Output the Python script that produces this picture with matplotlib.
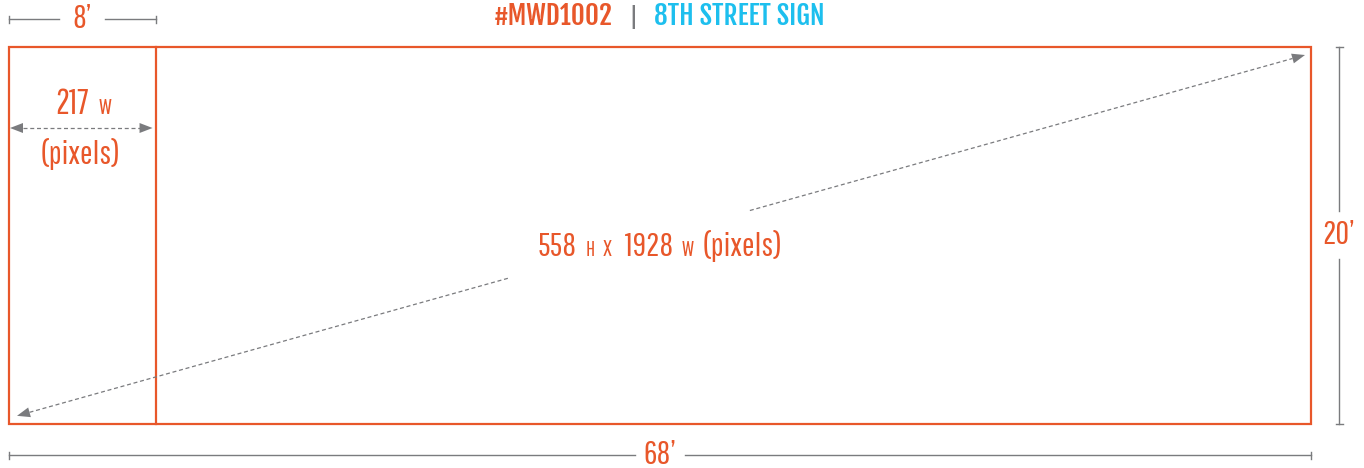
import numpy as np
import matplotlib
matplotlib.use("Agg")
import matplotlib.pyplot as plt
from matplotlib.patches import Rectangle, Polygon
from matplotlib.offsetbox import TextArea, HPacker, AnnotationBbox

# ---- data ----
sign_id = "#MWD1002"
sign_name = "8TH STREET SIGN"
panel_feet = [8, 68]          # small panel width, total width (feet)
height_feet = 20
small_panel_px = 217          # width in pixels of small panel
sign_px = [558, 1928]         # height, width in pixels

ORANGE = "#E8572A"
GREY = "#7A7B7E"
CYAN = "#1DBFEE"
FONT = ["Pathway Gothic One", "DejaVu Sans"]
TFONT = ["Fjalla One", "DejaVu Sans"]
plt.rcParams["font.family"] = FONT

fig = plt.figure(figsize=(13.64, 4.68), dpi=100)
ax = fig.add_axes([0, 0, 1, 1])
ax.set_xlim(0, 1364)
ax.set_ylim(468, 0)
ax.axis("off")

# layout of the sign drawing
x0, y0 = 9, 47
W = 1302
scale = W / sign_px[1]
H = sign_px[0] * scale
xdiv = x0 + small_panel_px * scale

ax.add_patch(Rectangle((x0, y0), W, H, fill=False, ec=ORANGE, lw=1.6))
ax.plot([xdiv, xdiv], [y0, y0 + H], color=ORANGE, lw=1.6)

DASH = (0, (3.2, 2.2))


def head(tip, frm, L=13, hw=5):
    tip = np.array(tip, float)
    frm = np.array(frm, float)
    d = tip - frm
    d /= np.hypot(*d)
    n = np.array([-d[1], d[0]])
    base = tip - d * L
    ax.add_patch(Polygon([tip, base + n * hw, base - n * hw], closed=True,
                         fc=GREY, ec="none"))
    return base


# diagonal arrow with gap for the label
P2 = np.array([x0 + 8, y0 + H - 8])
P1 = np.array([x0 + W - 6, y0 + 8])
b1 = head(P1, P2)
b2 = head(P2, P1)
ga = P2 + (P1 - P2) * 0.383
gb = P2 + (P1 - P2) * 0.569
ax.plot([b2[0], ga[0]], [b2[1], ga[1]], color=GREY, lw=0.9, ls=DASH)
ax.plot([gb[0], b1[0]], [gb[1], b1[1]], color=GREY, lw=0.9, ls=DASH)

# small panel double arrow
ya = 128
la = head((x0 + 1, ya), (xdiv, ya))
ra = head((xdiv - 3, ya), (x0, ya))
ax.plot([la[0], ra[0]], [ya, ya], color=GREY, lw=0.9, ls=DASH)


def mixed(parts, xy, sep=3, family=FONT):
    boxes = [TextArea(t, textprops=dict(color=c, fontsize=s, fontweight=w,
                                        family=family))
             for t, c, s, w in parts]
    pk = HPacker(children=boxes, align="baseline", pad=0, sep=sep)
    ab = AnnotationBbox(pk, xy, xycoords="data", frameon=False,
                        box_alignment=(0.5, 0.5))
    ax.add_artist(ab)


BIG = 24
SMALL = 16
cx = (x0 + xdiv) / 2
mixed([(str(small_panel_px), ORANGE, 25, "normal"), ("W", ORANGE, SMALL, "normal")],
      (cx + 1, 104), sep=7)
ax.text(cx - 2, 154, "(pixels)", color=ORANGE, fontsize=BIG, ha="center", va="center")

mixed([(str(sign_px[0]), ORANGE, BIG, "normal"), ("H", ORANGE, SMALL - 1, "normal"),
       ("X", ORANGE, 17, "normal"), (" " + str(sign_px[1]), ORANGE, BIG, "normal"),
       ("W", ORANGE, SMALL - 1, "normal"), ("(pixels)", ORANGE, BIG, "normal")],
      (x0 + W / 2, 246), sep=6)

# title
mixed([(sign_id, ORANGE, 19.5, "normal"), ("|", GREY, 16, "normal"),
       (sign_name, CYAN, 19.5, "normal")], (x0 + W / 2 - 1, 16), sep=12, family=TFONT)

# dimension lines
def hdim(xa, xb, y, label, gap=24):
    xm = (xa + xb) / 2
    ax.plot([xa, xm - gap], [y, y], color=GREY, lw=1.0)
    ax.plot([xm + gap, xb], [y, y], color=GREY, lw=1.0)
    for xx in (xa, xb):
        ax.plot([xx, xx], [y - 3.5, y + 3.5], color=GREY, lw=1.0)
    ax.text(xm, y, label, color=ORANGE, fontsize=BIG, ha="center", va="center")


def vdim(ya_, yb, x, label, gap=24):
    ym = (ya_ + yb) / 2
    ax.plot([x, x], [ya_, ym - gap], color=GREY, lw=1.0)
    ax.plot([x, x], [ym + gap, yb], color=GREY, lw=1.0)
    for yy in (ya_, yb):
        ax.plot([x - 3.5, x + 3.5], [yy, yy], color=GREY, lw=1.0)
    ax.text(x, ym, label, color=ORANGE, fontsize=BIG, ha="center", va="center")


hdim(x0, xdiv, 19, f"{panel_feet[0]}\u2019", gap=23)
hdim(x0, x0 + W, 455, f"{panel_feet[1]}\u2019", gap=25)
vdim(y0, y0 + H, 1339, f"{height_feet}\u2019", gap=24)

fig.savefig("out.png", dpi=100)
